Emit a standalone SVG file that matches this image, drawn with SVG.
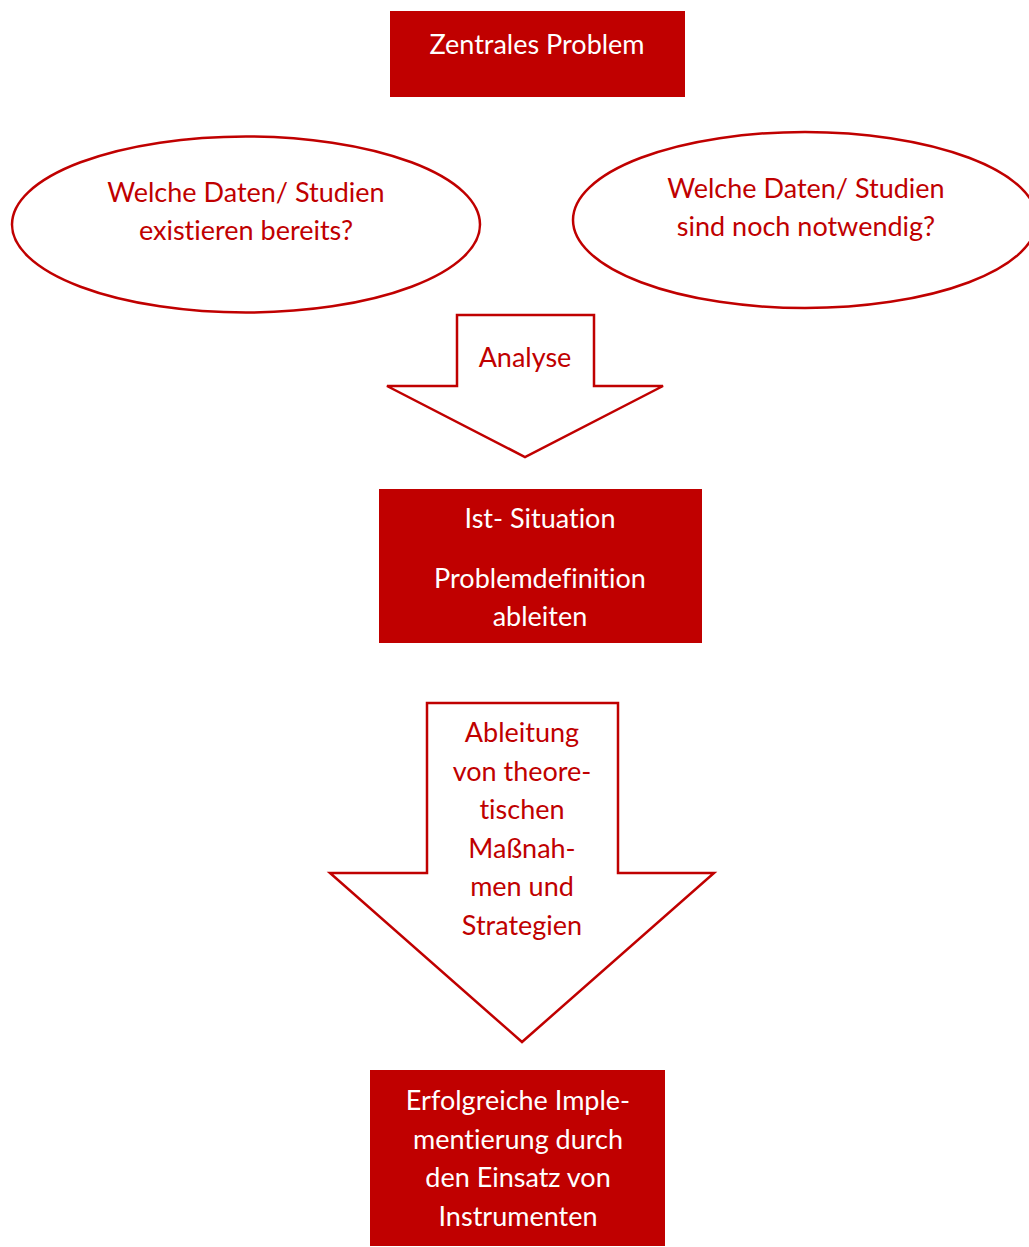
<svg xmlns="http://www.w3.org/2000/svg" width="1029" height="1247" viewBox="0 0 1029 1247">
<style>
.box{fill:#C00000;}
.out{fill:#FFFFFF;stroke:#C00000;stroke-width:2.5;}
text{font-family:Lato,"Open Sans","Liberation Sans",sans-serif;font-size:27px;text-anchor:middle;font-variant-ligatures:none;}
.w{fill:#FFFFFF;}
.r{fill:#C00000;}
</style>
<rect width="1029" height="1247" fill="#FFFFFF"/>
<g id="zentrales-problem">
<rect class="box" x="390" y="11" width="295" height="86"/>
<text class="w" x="537" y="54">Zentrales Problem</text>
</g>
<g id="daten-existieren">
<ellipse class="out" cx="246" cy="224.5" rx="234" ry="88"/>
<text class="r" x="246" y="202">Welche Daten/ Studien</text>
<text class="r" x="246" y="240">existieren bereits?</text>
</g>
<g id="daten-notwendig">
<ellipse class="out" cx="805" cy="220" rx="232" ry="88"/>
<text class="r" x="806" y="198">Welche Daten/ Studien</text>
<text class="r" x="806" y="236">sind noch notwendig?</text>
</g>
<g id="connectors">
<g id="arrow-analyse">
<polygon class="out" points="457,315 594,315 594,386 663,386 525,457 387,386 457,386"/>
<text class="r" x="525" y="367">Analyse</text>
</g>
<g id="arrow-ableitung">
<polygon class="out" points="427,703 618,703 618,873 714,873 522,1042 330,873 427,873"/>
<text class="r" x="522" y="742">Ableitung</text>
<text class="r" x="522" y="781">von theore-</text>
<text class="r" x="522" y="819">tischen</text>
<text class="r" x="522" y="858">Maßnah-</text>
<text class="r" x="522" y="896">men und</text>
<text class="r" x="522" y="935">Strategien</text>
</g>
</g>
<g id="ist-situation">
<rect class="box" x="379" y="489" width="323" height="154"/>
<text class="w" x="540" y="528">Ist- Situation</text>
<text class="w" x="540" y="588">Problemdefinition</text>
<text class="w" x="540" y="626">ableiten</text>
</g>
<g id="implementierung">
<rect class="box" x="370" y="1070" width="295" height="176"/>
<text class="w" x="518" y="1110">Erfolgreiche Imple-</text>
<text class="w" x="518" y="1149">mentierung durch</text>
<text class="w" x="518" y="1187">den Einsatz von</text>
<text class="w" x="518" y="1226">Instrumenten</text>
</g>
</svg>
